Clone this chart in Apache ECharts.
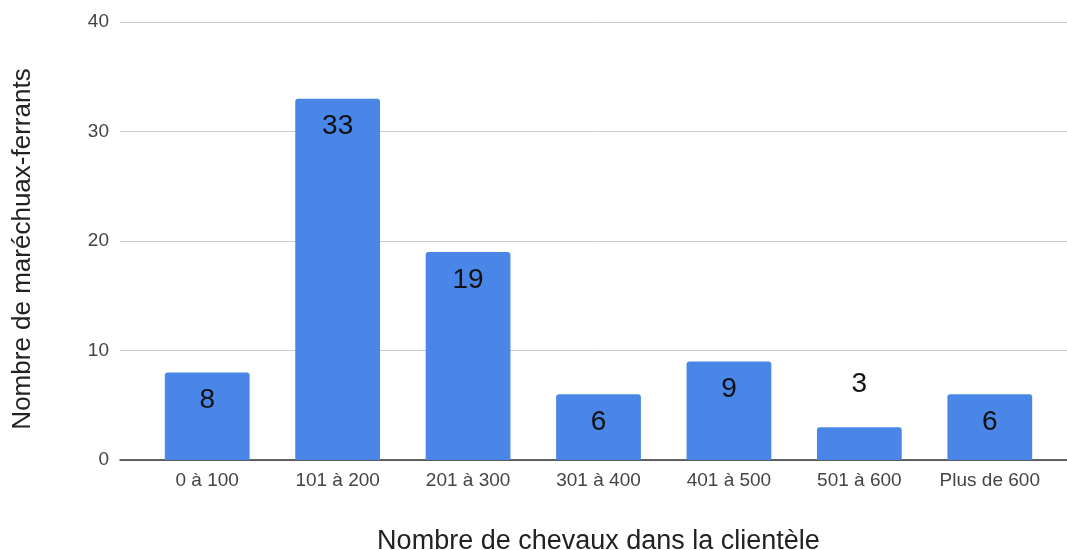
<!DOCTYPE html>
<html>
<head>
<meta charset="utf-8">
<script src="https://cdn.jsdelivr.net/npm/echarts@6/dist/echarts.min.js"></script>
<style>
  html, body { margin: 0; padding: 0; background: #ffffff; }
  #chart { width: 1067px; height: 550px; }
</style>
</head>
<body>
<div id="chart"></div>
<script>
// Clientèle size ranges and number of farriers in each range
const categories = ['0 à 100', '101 à 200', '201 à 300', '301 à 400', '401 à 500', '501 à 600', 'Plus de 600'];
const farriers = [8, 33, 19, 6, 9, 3, 6];
const yTicks = { min: 0, max: 40, interval: 10 };

const FONT = '"Liberation Sans", Arial, sans-serif';

// Short bars get their label above the bar, the rest inside the top
const barData = farriers.map(v => ({
  value: v,
  label: v < 5
    ? { position: 'top', distance: 29 }
    : { position: 'insideTop', distance: 14 }
}));

const chart = echarts.init(document.getElementById('chart'));
chart.setOption({
  animation: false,
  textStyle: { fontFamily: FONT },
  // grid 0: full-width frame (value labels, gridlines, baseline)
  // grid 1: slightly inset band where the bars sit
  grid: [
    { left: 120, right: 0, top: 22, bottom: 90, containLabel: false, outerBoundsMode: 'none' },
    { left: 142, right: 12, top: 22, bottom: 90, containLabel: false, outerBoundsMode: 'none' }
  ],
  xAxis: [
    {
      gridIndex: 0,
      type: 'value',
      min: 0,
      max: 1,
      axisLine: { show: true, onZero: false, lineStyle: { color: '#333333', width: 1.5 } },
      axisTick: { show: false },
      axisLabel: { show: false },
      splitLine: { show: false }
    },
    {
      gridIndex: 1,
      type: 'category',
      data: categories,
      name: 'Nombre de chevaux dans la clientèle',
      nameLocation: 'middle',
      nameGap: 68,
      nameTextStyle: { fontSize: 27, color: '#222222', fontFamily: FONT },
      axisLine: { show: false },
      axisTick: { show: false },
      axisLabel: { interval: 0, fontSize: 19, color: '#444444', margin: 11, fontFamily: FONT }
    }
  ],
  yAxis: [
    {
      gridIndex: 0,
      type: 'value',
      min: yTicks.min,
      max: yTicks.max,
      interval: yTicks.interval,
      name: 'Nombre de maréchuax-ferrants',
      nameLocation: 'middle',
      nameGap: 84,
      nameTextStyle: { fontSize: 26, color: '#222222', fontFamily: FONT, padding: [0, 16, 0, 0] },
      axisLine: { show: false },
      axisTick: { show: false },
      axisLabel: { fontSize: 19, color: '#444444', margin: 11, fontFamily: FONT },
      splitLine: { lineStyle: { color: '#cccccc', width: 1 } }
    },
    {
      gridIndex: 1,
      type: 'value',
      min: yTicks.min,
      max: yTicks.max,
      interval: yTicks.interval,
      show: false
    }
  ],
  series: [{
    type: 'bar',
    xAxisIndex: 1,
    yAxisIndex: 1,
    data: barData,
    barWidth: '65%',
    itemStyle: { color: '#4a86e8', borderRadius: [3, 3, 0, 0] },
    label: { show: true, fontSize: 28, color: '#111111', fontFamily: FONT }
  }]
});
</script>
</body>
</html>
